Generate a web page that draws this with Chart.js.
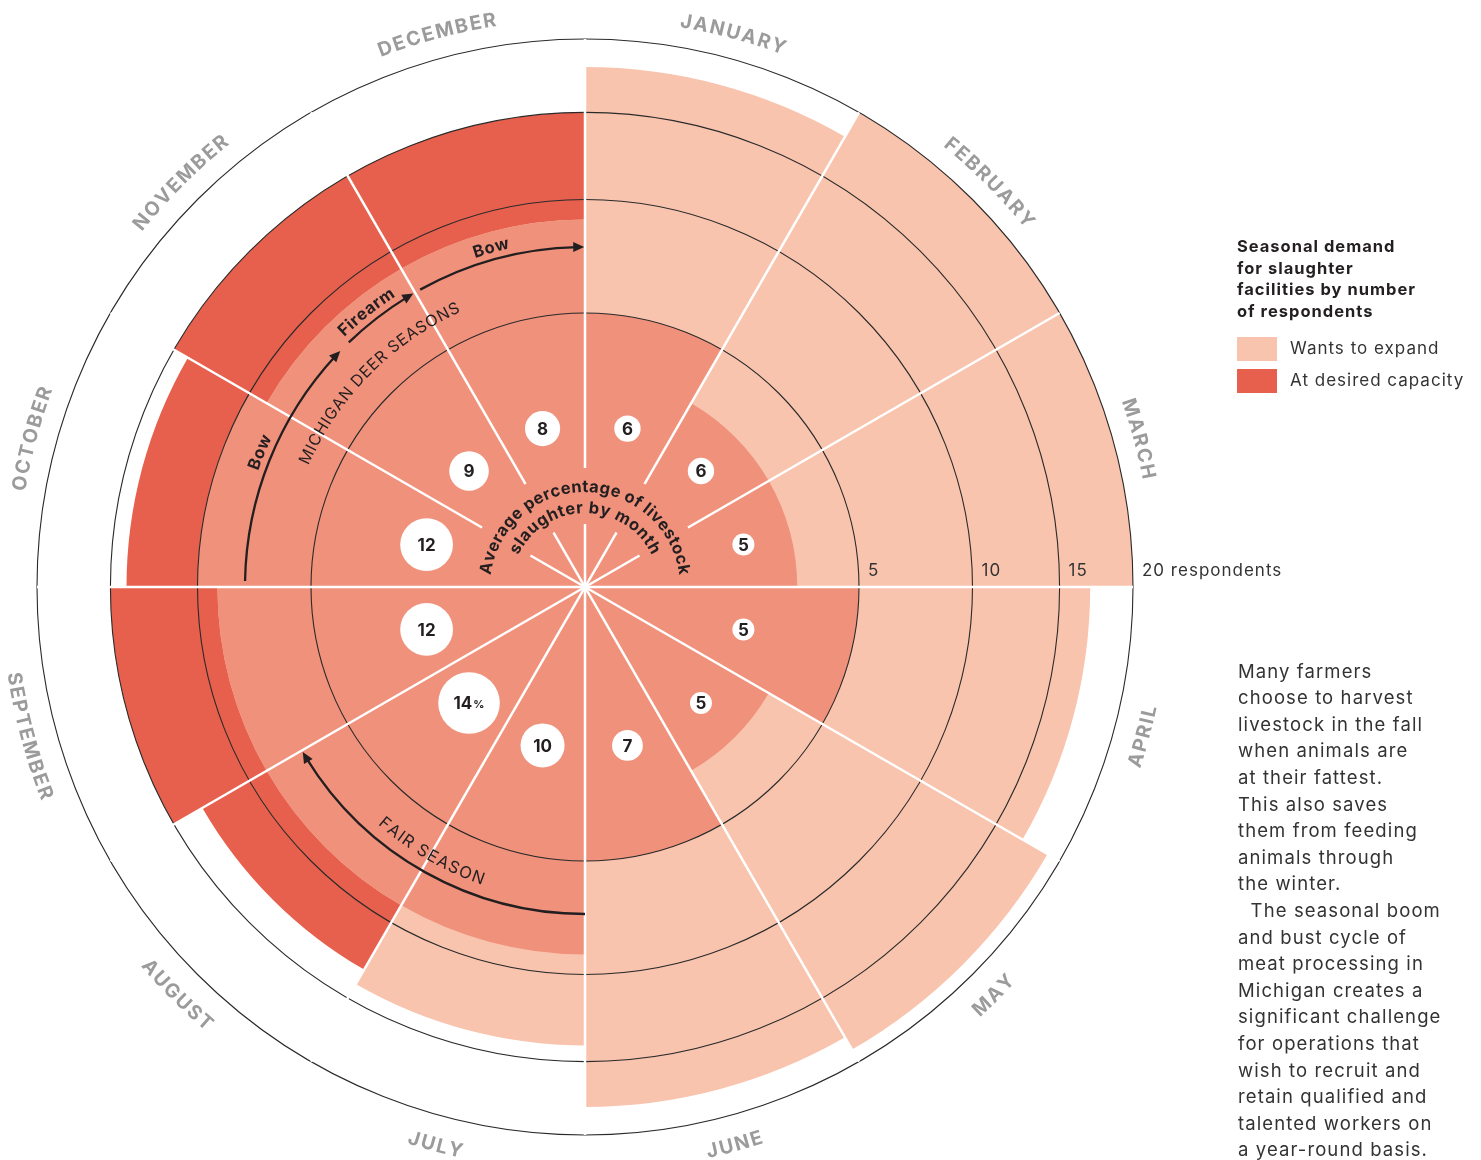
<!DOCTYPE html>
<html>
<head>
<meta charset="utf-8">
<title>Seasonal demand for slaughter facilities</title>
<script src="https://cdn.jsdelivr.net/npm/chart.js@4.4.1/dist/chart.umd.min.js"></script>
<style>
  html, body { margin: 0; padding: 0; background: #fff; }
  #wrap { position: relative; width: 1481px; height: 1160px; }
</style>
</head>
<body>
<div id="wrap"><canvas id="demandChart"></canvas></div>
<script>
// Months, clockwise from the top
const months = ['January', 'February', 'March', 'April', 'May', 'June',
  'July', 'August', 'September', 'October', 'November', 'December'];

// Number of respondents per month
const wantsToExpand = [18, 20, 20, 17, 19, 18, 14, 9, 9, 10, 9, 9];
const atDesiredCapacity = [5, 3, 3, 5, 3, 5, 9, 13, 15, 14, 15, 15];

// Average percentage of livestock slaughter by month (white bubbles)
const avgSlaughterPct = [6, 6, 5, 5, 5, 7, 10, 14, 12, 12, 9, 8];

// Radial axis
const radialTicks = [5, 10, 15, 20];
const radialTickLabels = ['5', '10', '15', '20 respondents'];

const legendTitle = ['Seasonal demand', 'for slaughter', 'facilities by number', 'of respondents'];
const sideNote = [
  'Many farmers', 'choose to harvest', 'livestock in the fall', 'when animals are',
  'at their fattest.', 'This also saves', 'them from feeding', 'animals through',
  'the winter.', '  The seasonal boom', 'and bust cycle of', 'meat processing in',
  'Michigan creates a', 'significant challenge', 'for operations that',
  'wish to recruit and', 'retain qualified and', 'talented workers on', 'a year-round basis.'
];

const PINK = '#F9C4AE';
const RED = '#E7604D';
const SALMON = '#F0917B';
const INK = '#231F20';
const GREY = '#9B9B9B';
const FONT = 'Inter, "Open Sans", "DejaVu Sans", sans-serif';

// where both series overlap the wedge is drawn in salmon
const bothSeries = wantsToExpand.map((v, i) => Math.min(v, atDesiredCapacity[i]));

// radial scale whose radius grows with the square root (area ~ value)
class SqrtRadialScale extends Chart.RadialLinearScale {
  getDistanceFromCenterForValue(value) {
    if (value === null || value === undefined) return NaN;
    const t = Math.max(0, (value - this.min) / (this.max - this.min));
    return this.drawingArea * Math.sqrt(t);
  }
}
SqrtRadialScale.id = 'sqrtRadial';
SqrtRadialScale.defaults = Chart.RadialLinearScale.defaults;
Chart.register(SqrtRadialScale);

const rad = d => d * Math.PI / 180;

function curvedText(ctx, text, cx, cy, radius, centerAngle, font, color, spacing, flip) {
  ctx.save();
  ctx.font = font;
  ctx.fillStyle = color;
  ctx.textAlign = 'center';
  ctx.textBaseline = 'alphabetic';
  const chars = Array.from(text);
  const widths = chars.map(ch => ctx.measureText(ch).width);
  const total = widths.reduce((a, b) => a + b, 0) + spacing * (chars.length - 1);
  let a = flip ? centerAngle + total / 2 / radius : centerAngle - total / 2 / radius;
  chars.forEach((ch, k) => {
    const half = widths[k] / 2 / radius;
    const ac = flip ? a - half : a + half;
    ctx.save();
    ctx.translate(cx, cy);
    if (flip) {
      ctx.rotate(ac - Math.PI);
      ctx.fillText(ch, 0, radius);
    } else {
      ctx.rotate(ac);
      ctx.fillText(ch, 0, -radius);
    }
    ctx.restore();
    const adv = (widths[k] + spacing) / radius;
    a = flip ? a - adv : a + adv;
  });
  ctx.restore();
}

function arcArrow(ctx, cx, cy, r, fromDeg, toDeg) {
  const a0 = rad(fromDeg), a1 = rad(toDeg);
  ctx.save();
  ctx.strokeStyle = INK;
  ctx.fillStyle = INK;
  ctx.lineWidth = 2.3;
  ctx.beginPath();
  ctx.arc(cx, cy, r, a0 - Math.PI / 2, a1 - Math.PI / 2 - 6 / r);
  ctx.stroke();
  const px = cx + r * Math.sin(a1), py = cy - r * Math.cos(a1);
  const tx = Math.cos(a1), ty = Math.sin(a1);
  const nx = Math.sin(a1), ny = -Math.cos(a1);
  ctx.beginPath();
  ctx.moveTo(px + tx * 1, py + ty * 1);
  ctx.lineTo(px - tx * 10 + nx * 5, py - ty * 10 + ny * 5);
  ctx.lineTo(px - tx * 10 - nx * 5, py - ty * 10 - ny * 5);
  ctx.closePath();
  ctx.fill();
  ctx.restore();
}

const decorations = {
  id: 'decorations',
  afterDraw(chart) {
    const ctx = chart.ctx;
    const s = chart.scales.r;
    const cx = s.xCenter, cy = s.yCenter;
    const step = 2 * Math.PI / months.length;
    const mid = i => s.getIndexAngle(i) + step / 2;

    // radial tick labels along the right horizontal
    ctx.save();
    ctx.font = `400 17px ${FONT}`;
    ctx.letterSpacing = '1px';
    ctx.fillStyle = '#333';
    ctx.textAlign = 'left';
    ctx.textBaseline = 'middle';
    radialTicks.forEach((v, k) => {
      ctx.fillText(radialTickLabels[k], cx + s.getDistanceFromCenterForValue(v) + 9, cy - 16);
    });
    ctx.restore();

    // month names around the outside
    months.forEach((m, i) => {
      const a = mid(i);
      const deg = (a * 180 / Math.PI + 360) % 360;
      const flip = deg > 90 && deg < 270;
      curvedText(ctx, m.toUpperCase(), cx, cy, flip ? 584 : 568, a,
        `700 19.5px ${FONT}`, GREY, 1.8, flip);
    });

    // knock out the spokes behind the centre caption
    ctx.save();
    ctx.fillStyle = SALMON;
    ctx.beginPath();
    ctx.arc(cx, cy, 119, -Math.PI / 2 - rad(86), -Math.PI / 2 + rad(86));
    ctx.arc(cx, cy, 63, -Math.PI / 2 + rad(86), -Math.PI / 2 - rad(86), true);
    ctx.closePath();
    ctx.fill();
    ctx.restore();

    curvedText(ctx, 'Average percentage of livestock', cx, cy, 95, 0, `700 16.5px ${FONT}`, INK, 0.4, false);
    curvedText(ctx, 'slaughter by month', cx, cy, 74, 0, `700 16.5px ${FONT}`, INK, 0.6, false);

    // percentage bubbles
    const maxPct = Math.max(...avgSlaughterPct);
    avgSlaughterPct.forEach((v, i) => {
      const a = mid(i);
      const bx = cx + 164 * Math.sin(a), by = cy - 164 * Math.cos(a);
      ctx.save();
      ctx.fillStyle = '#fff';
      ctx.beginPath();
      ctx.arc(bx, by, 2.2 * v, 0, 2 * Math.PI);
      ctx.fill();
      ctx.fillStyle = INK;
      ctx.textBaseline = 'middle';
      ctx.textAlign = 'left';
      ctx.font = `700 17px ${FONT}`;
      const num = String(v);
      const w1 = ctx.measureText(num).width;
      let w2 = 0;
      if (v === maxPct) {
        ctx.font = `700 11px ${FONT}`;
        w2 = ctx.measureText('%').width + 1;
      }
      const x0 = bx - (w1 + w2) / 2;
      ctx.font = `700 17px ${FONT}`;
      ctx.fillText(num, x0, by + 1);
      if (w2) {
        ctx.font = `700 11px ${FONT}`;
        ctx.fillText('%', x0 + w1 + 1, by + 2);
      }
      ctx.restore();
    });

    // Michigan deer seasons
    arcArrow(ctx, cx, cy, 340, 271, 313.8);
    arcArrow(ctx, cx, cy, 340, 316, 329.5);
    arcArrow(ctx, cx, cy, 340, 331, 359.7);
    curvedText(ctx, 'Bow', cx, cy, 347, rad(292.5), `700 16.5px ${FONT}`, INK, 0.6, false);
    curvedText(ctx, 'Firearm', cx, cy, 347, rad(321.5), `700 16.5px ${FONT}`, INK, 0.6, false);
    curvedText(ctx, 'Bow', cx, cy, 347, rad(344.5), `700 16.5px ${FONT}`, INK, 0.6, false);
    curvedText(ctx, 'MICHIGAN DEER SEASONS', cx, cy, 302, rad(314.7), `400 16px ${FONT}`, INK, 0.7, false);

    // fair season
    arcArrow(ctx, cx, cy, 327, 180, 239.5);
    curvedText(ctx, 'FAIR SEASON', cx, cy, 315, rad(210.1), `400 16.5px ${FONT}`, INK, 1.3, true);

    // legend
    ctx.save();
    ctx.fillStyle = INK;
    ctx.textAlign = 'left';
    ctx.textBaseline = 'middle';
    ctx.font = `700 16.5px ${FONT}`;
    ctx.letterSpacing = '1px';
    legendTitle.forEach((line, k) => ctx.fillText(line, 1237, 247 + k * 21.7));
    const legendItems = [['Wants to expand', PINK], ['At desired capacity', RED]];
    ctx.font = `400 17px ${FONT}`;
    legendItems.forEach(([label, color], k) => {
      ctx.fillStyle = color;
      ctx.fillRect(1237, 337 + k * 32, 40, 24);
      ctx.fillStyle = '#333';
      ctx.fillText(label, 1290, 349 + k * 32);
    });

    // side note
    ctx.font = `400 18.5px ${FONT}`;
    ctx.letterSpacing = '1.1px';
    ctx.fillStyle = '#333';
    sideNote.forEach((line, k) => ctx.fillText(line, 1238, 672 + k * 26.6));
    ctx.restore();
  }
};

const ctx = document.getElementById('demandChart').getContext('2d');
const demandChart = new Chart(ctx, {
  type: 'polarArea',
  data: {
    labels: months,
    datasets: [{
      label: 'Both',
      data: bothSeries,
      backgroundColor: SALMON,
      borderWidth: 0
    }, {
      label: 'Wants to expand',
      data: wantsToExpand,
      backgroundColor: PINK,
      borderWidth: 0
    }, {
      label: 'At desired capacity',
      data: atDesiredCapacity,
      backgroundColor: RED,
      borderWidth: 0
    }]
  },
  options: {
    responsive: true,
    maintainAspectRatio: false,
    animation: false,
    events: [],
    layout: {
      padding: { left: 37, top: 39, right: 348, bottom: 25 }
    },
    plugins: {
      legend: { display: false },
      tooltip: { enabled: false }
    },
    scales: {
      r: {
        type: 'sqrtRadial',
        min: 0,
        max: 20,
        startAngle: 0,
        ticks: { display: false, stepSize: 5 },
        pointLabels: { display: false },
        grid: { circular: true, color: '#2a2a2a', lineWidth: 1.1, z: 1 },
        angleLines: { display: true, color: '#ffffff', lineWidth: 2.5 }
      }
    }
  },
  plugins: [decorations]
});
</script>
</body>
</html>
